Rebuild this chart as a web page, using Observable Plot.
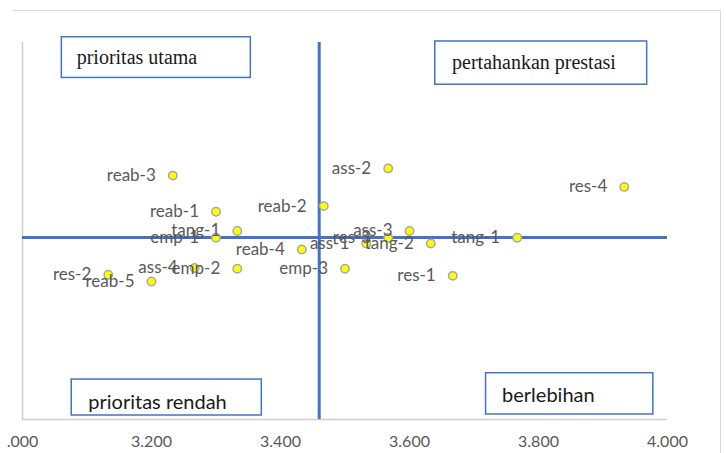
<!DOCTYPE html>
<html><head><meta charset="utf-8">
<script src="https://cdn.jsdelivr.net/npm/d3@7"></script>
<script src="https://cdn.jsdelivr.net/npm/@observablehq/plot@0.6"></script>
<style>
body{margin:0;background:#fff;}
#wrap{position:relative;width:726px;height:453px;overflow:hidden;background:#fff;}
#wrap svg{position:absolute;left:0;top:0;}
.frameTop{position:absolute;left:13px;top:10px;width:708px;height:0;border-top:1px solid #d9d9d9;}
.frameRight{position:absolute;left:720px;top:10px;width:0;height:443px;border-left:1px solid #d9d9d9;}
</style></head><body>
<div id="wrap"><div class="frameTop"></div><div class="frameRight"></div></div>
<script>
// Data
const labels = ["reab-3","reab-1","tang-1","emp-1","reab-2","reab-4","emp-2","ass-4","res-2","reab-5","emp-3","ass-2","res-4","ass-3","res-3","ass-1","tang-2","tang-1","res-1"];
const xValues = [3.233,3.300,3.333,3.300,3.467,3.433,3.333,3.267,3.133,3.200,3.500,3.567,3.933,3.600,3.567,3.533,3.633,3.767,3.667];
const yValues = [3.647,3.551,3.500,3.482,3.566,3.451,3.400,3.402,3.384,3.366,3.400,3.666,3.617,3.500,3.482,3.467,3.467,3.482,3.381];
const meanX = 3.460;
const meanY = 3.483;
const xTicks = [3.0,3.2,3.4,3.6,3.8,4.0];
const xTickLabels = [".000","3.200","3.400","3.600","3.800","4.000"];
const boxTexts = ["prioritas utama","pertahankan prestasi","prioritas rendah","berlebihan"];

// Annotation layout (data coordinates)
const boxLayout = [
  {x1:3.061, x2:3.354, y1:3.906, y2:4.014, tx:3.084, ty:3.9435, font:"Liberation Serif", size:20},
  {x1:3.640, x2:3.9685, y1:3.888, y2:4.0027, tx:3.666, ty:3.930, font:"Liberation Serif", size:20},
  {x1:3.0763, x2:3.371, y1:3.0106, y2:3.106, tx:3.102, ty:3.028, font:"Lato", size:20},
  {x1:3.7187, x2:3.978, y1:3.0133, y2:3.1228, tx:3.7435, ty:3.0459, font:"Lato", size:20}
];
const boxes = boxLayout.map((b,i)=>({...b, text: boxTexts[i]}));
const points = labels.map((l,i)=>({label:l, x:xValues[i], y:yValues[i]}));

const chart = Plot.plot({
  width: 726,
  height: 453,
  marginLeft: 22,
  marginRight: 59,
  marginTop: 42,
  marginBottom: 34,
  style: {background: "transparent", overflow: "visible"},
  x: {domain: [3, 4], axis: null},
  y: {domain: [3, 4], axis: null},
  marks: [
    Plot.ruleX([3.0], {stroke: "#cfcfcf", strokeWidth: 1.5}),
    Plot.ruleY([3.0], {stroke: "#cfcfcf", strokeWidth: 1.5}),
    Plot.ruleY([meanY], {stroke: "#4472C4", strokeWidth: 3}),
    Plot.ruleX([meanX], {stroke: "#4472C4", strokeWidth: 3}),
    Plot.rect(boxes, {x1: "x1", x2: "x2", y1: "y1", y2: "y2", fill: "white", stroke: "#4472C4", strokeWidth: 1.5}),
    ...boxes.map(b => Plot.text([b], {x: "tx", y: "ty", text: "text", textAnchor: "start", lineAnchor: "bottom", fill: "#1a1a1a", fontSize: b.size, fontFamily: b.font})),
    Plot.dot(points, {x: "x", y: "y", r: 4.2, fill: "#FFFF00", stroke: "#A6A6A6", strokeWidth: 1.5}),
    Plot.text(points, {x: "x", y: "y", text: "label", textAnchor: "end", dx: -17, fill: "#595959", fontSize: 17, fontFamily: "Lato"}),
    Plot.axisX(xTicks, {tickSize: 0, tickPadding: 16, tickFormat: d => xTickLabels[xTicks.indexOf(d)], fontSize: 16, fontFamily: "Lato", color: "#595959"})
  ]
});
document.getElementById("wrap").appendChild(chart);
</script>
</body></html>
